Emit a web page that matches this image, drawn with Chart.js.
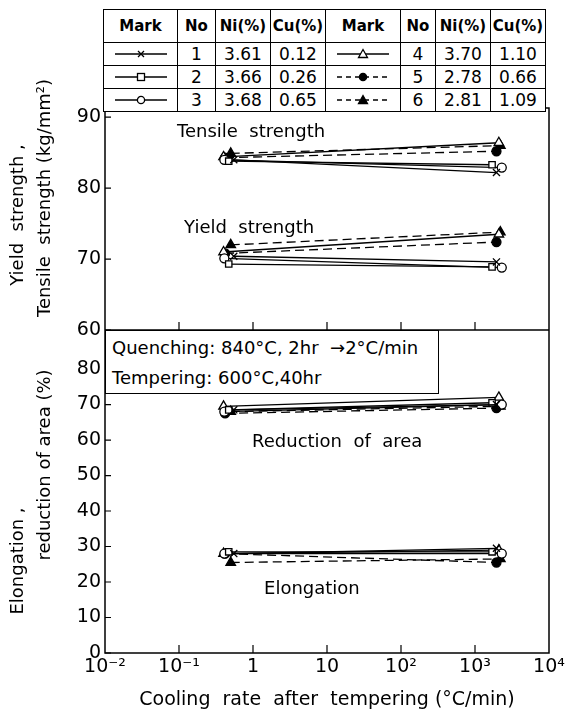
<!DOCTYPE html>
<html>
<head>
<meta charset="utf-8">
<script src="https://cdn.jsdelivr.net/npm/chart.js@4.4.1/dist/chart.umd.min.js"></script>
<style>
  html, body { margin: 0; padding: 0; background: #fff; }
  #wrap { position: relative; width: 575px; height: 715px; }
  #chart { position: absolute; left: 0; top: 0; }
  table.marks {
    position: absolute; left: 103px; top: 9px;
    border-collapse: collapse; table-layout: fixed;
    font-family: "DejaVu Sans", sans-serif; color: #000; background: #fff;
  }
  table.marks td { border: 1.5px solid #000; text-align: center; padding: 0; font-size: 17px; }
  table.marks tr.head td { font-weight: bold; font-size: 15px; height: 32px; }
  table.marks tr.row td { height: 22px; }
  table.marks svg { display: block; margin: 0 auto; }
  .cond {
    position: absolute; left: 105px; top: 330px; width: 326px; height: 60px;
    border: 1.5px solid #000; background: #fff; padding: 2px 0 0 6px;
    font-family: "DejaVu Sans", sans-serif; font-size: 18px; line-height: 30px; color: #000;
  }
</style>
</head>
<body>
<div id="wrap">
  <canvas id="chart" width="575" height="715"></canvas>
  <table class="marks" id="marks"></table>
  <div class="cond">Quenching: 840°C, 2hr &nbsp;→2°C/min<br>Tempering: 600°C,40hr</div>
</div>
<script>
// steels
const steelNo = [1, 2, 3, 4, 5, 6];
const nickel = ["3.61", "3.66", "3.68", "3.70", "2.78", "2.81"];
const copper = ["0.12", "0.26", "0.65", "1.10", "0.66", "1.09"];

// cooling rate (°C/min) of the slow and fast runs
const slowRate = [0.55, 0.47, 0.41, 0.40, 0.42, 0.50];
const fastRate = [1950, 1700, 2300, 2100, 1950, 2200];

// kg/mm2
const tensileSlow = [84.0, 83.8, 84.0, 84.4, 84.3, 84.9];
const tensileFast = [82.2, 83.3, 82.9, 86.4, 85.2, 86.0];
const yieldSlow = [70.4, 69.3, 70.1, 71.0, 70.8, 72.0];
const yieldFast = [69.6, 68.9, 68.8, 73.5, 72.4, 73.8];

// %
const raSlow = [68.5, 68.5, 68.0, 69.5, 67.5, 68.0];
const raFast = [70.0, 70.5, 70.0, 72.0, 69.0, 69.5];
const elSlow = [28.0, 28.5, 28.0, 28.0, 28.0, 25.5];
const elFast = [29.5, 28.5, 28.0, 29.0, 25.5, 26.5];

const xTicks = [0.01, 0.1, 1, 10, 100, 1000, 10000];
const xTickLabels = ["10⁻²", "10⁻¹", "1", "10", "10²", "10³", "10⁴"];
const strengthTicks = [60, 70, 80, 90];
const ductilityTicks = [0, 10, 20, 30, 40, 50, 60, 70, 80];

// marker styles per steel
const markStyle = ["crossRot", "rect", "circle", "triangle", "circle", "triangle"];
const markFilled = [false, false, false, false, true, true];
const markDashed = [false, false, false, false, true, true];
const markRadius = [5, 4.5, 4.5, 5.5, 4.5, 5.5];

const FONT = '"DejaVu Sans", sans-serif';

function seriesFor(slow, fast, axis) {
  return steelNo.map((no, i) => ({
    label: "No " + no,
    yAxisID: axis,
    data: [{ x: slowRate[i], y: slow[i] }, { x: fastRate[i], y: fast[i] }],
    borderColor: "#000",
    borderWidth: 1.3,
    borderDash: markDashed[i] ? [9, 5] : [],
    pointStyle: markStyle[i],
    pointRadius: markRadius[i],
    pointBorderWidth: 1.3,
    pointBorderColor: "#000",
    pointBackgroundColor: markFilled[i] ? "#000" : "#fff",
    showLine: true,
  }));
}

const datasets = [
  ...seriesFor(tensileSlow, tensileFast, "yTop"),
  ...seriesFor(yieldSlow, yieldFast, "yTop"),
  ...seriesFor(raSlow, raFast, "yBot"),
  ...seriesFor(elSlow, elFast, "yBot"),
];

// curve labels, placed in data units
const curveLabels = [
  { text: "Tensile  strength", x: 0.094, y: 87.9, axis: "yTop" },
  { text: "Yield  strength", x: 0.117, y: 74.3, axis: "yTop" },
  { text: "Reduction  of  area", x: 0.97, y: 59.4, axis: "yBot" },
  { text: "Elongation", x: 1.41, y: 18.0, axis: "yBot" },
];

const frame = {
  id: "frame",
  afterDraw(chart) {
    const ctx = chart.ctx;
    const { left, right, top, bottom } = chart.chartArea;
    const x = chart.scales.x;
    const yTop = chart.scales.yTop;
    const yBot = chart.scales.yBot;
    ctx.save();
    ctx.strokeStyle = "#000";
    ctx.lineWidth = 1.5;
    ctx.strokeRect(left, top, right - left, bottom - top);
    ctx.beginPath();
    ctx.moveTo(left, yTop.bottom);
    ctx.lineTo(right, yTop.bottom);
    ctx.stroke();

    // ticks point inwards
    ctx.lineWidth = 1.2;
    ctx.beginPath();
    for (const s of [yTop, yBot]) {
      s.ticks.forEach((t) => {
        const py = s.getPixelForValue(t.value);
        ctx.moveTo(left, py);
        ctx.lineTo(left + 6, py);
      });
      x.ticks.forEach((t) => {
        const px = x.getPixelForValue(t.value);
        if (px > left + 2 && px < right - 2) {
          ctx.moveTo(px, s.bottom);
          ctx.lineTo(px, s.bottom - 8);
        }
      });
    }
    ctx.stroke();

    ctx.fillStyle = "#000";
    ctx.font = "18px " + FONT;
    ctx.textAlign = "left";
    ctx.textBaseline = "middle";
    curveLabels.forEach((l) => {
      ctx.fillText(l.text, x.getPixelForValue(l.x), chart.scales[l.axis].getPixelForValue(l.y));
    });

    // y axis titles, two lines each
    ctx.textAlign = "center";
    const titles = [
      ["Yield  strength ,", 18, 215],
      ["Tensile  strength (kg/mm²)", 45, 198],
      ["Elongation ,", 18, 561],
      ["reduction of area (%)", 45, 465],
    ];
    titles.forEach(([t, tx, ty]) => {
      ctx.save();
      ctx.translate(tx, ty);
      ctx.rotate(-Math.PI / 2);
      ctx.fillText(t, 0, 0);
      ctx.restore();
    });
    ctx.restore();
  },
};

const yTickFont = { family: FONT, size: 19 };

new Chart(document.getElementById("chart"), {
  type: "scatter",
  data: { datasets },
  options: {
    responsive: false,
    animation: false,
    layout: { padding: { left: 0, right: 26, top: 108, bottom: 0 } },
    plugins: { legend: { display: false }, tooltip: { enabled: false } },
    scales: {
      x: {
        type: "logarithmic",
        min: 0.01,
        max: 10000,
        grid: { display: false, drawTicks: false },
        border: { display: false },
        afterBuildTicks: (s) => { s.ticks = xTicks.map((v) => ({ value: v })); },
        afterFit: (s) => { s.height = 62; },
        ticks: {
          color: "#000",
          padding: 3,
          maxRotation: 0,
          autoSkip: false,
          font: { family: FONT, size: 19 },
          callback: (v, i) => xTickLabels[i],
        },
        title: {
          display: true,
          text: "Cooling  rate  after  tempering (°C/min)",
          color: "#000",
          font: { family: FONT, size: 19 },
          padding: { top: 2, bottom: 4 },
        },
      },
      yBot: {
        type: "linear",
        position: "left",
        stack: "panels",
        stackWeight: 323,
        weight: 0,
        min: 0,
        max: 91,
        grid: { display: false, drawTicks: false },
        border: { display: false },
        afterBuildTicks: (s) => { s.ticks = ductilityTicks.map((v) => ({ value: v })); },
        afterFit: (s) => { s.width = 105; },
        ticks: { color: "#000", padding: 4, autoSkip: false, font: yTickFont },
      },
      yTop: {
        type: "linear",
        position: "left",
        stack: "panels",
        stackWeight: 222,
        weight: 1,
        min: 60,
        max: 91.3,
        grid: { display: false, drawTicks: false },
        border: { display: false },
        afterBuildTicks: (s) => { s.ticks = strengthTicks.map((v) => ({ value: v })); },
        afterFit: (s) => { s.width = 105; },
        ticks: { color: "#000", padding: 4, autoSkip: false, font: yTickFont },
      },
    },
  },
  plugins: [frame],
});

// mark table
function markSvg(i) {
  const dash = markDashed[i] ? 'stroke-dasharray="5 4"' : "";
  const fill = markFilled[i] ? "#000" : "#fff";
  let shape = "";
  if (markStyle[i] === "crossRot") {
    shape = '<path d="M25 3 L31 9 M31 3 L25 9" stroke="#000" stroke-width="1.3"/>';
  } else if (markStyle[i] === "rect") {
    shape = '<rect x="24.5" y="2.5" width="7" height="7" fill="#fff" stroke="#000" stroke-width="1.3"/>';
  } else if (markStyle[i] === "circle") {
    shape = '<circle cx="28" cy="6" r="3.6" fill="' + fill + '" stroke="#000" stroke-width="1.3"/>';
  } else {
    shape = '<path d="M28 1.5 L32.5 9.5 L23.5 9.5 Z" fill="' + fill + '" stroke="#000" stroke-width="1.3"/>';
  }
  return '<svg width="56" height="12"><line x1="2" y1="6" x2="54" y2="6" stroke="#000" stroke-width="1.3" ' +
    dash + "/>" + shape + "</svg>";
}

const colW = [74, 38, 55, 55, 75, 35, 55, 55];
let html = "<colgroup>" + colW.map((w) => '<col style="width:' + w + 'px">').join("") + "</colgroup>";
html += '<tr class="head">' + ["Mark", "No", "Ni(%)", "Cu(%)", "Mark", "No", "Ni(%)", "Cu(%)"].map((h) => "<td>" + h + "</td>").join("") + "</tr>";
for (let r = 0; r < 3; r++) {
  const a = r, b = r + 3;
  html += '<tr class="row">' +
    "<td>" + markSvg(a) + "</td><td>" + steelNo[a] + "</td><td>" + nickel[a] + "</td><td>" + copper[a] + "</td>" +
    "<td>" + markSvg(b) + "</td><td>" + steelNo[b] + "</td><td>" + nickel[b] + "</td><td>" + copper[b] + "</td></tr>";
}
document.getElementById("marks").innerHTML = html;
</script>
</body>
</html>
